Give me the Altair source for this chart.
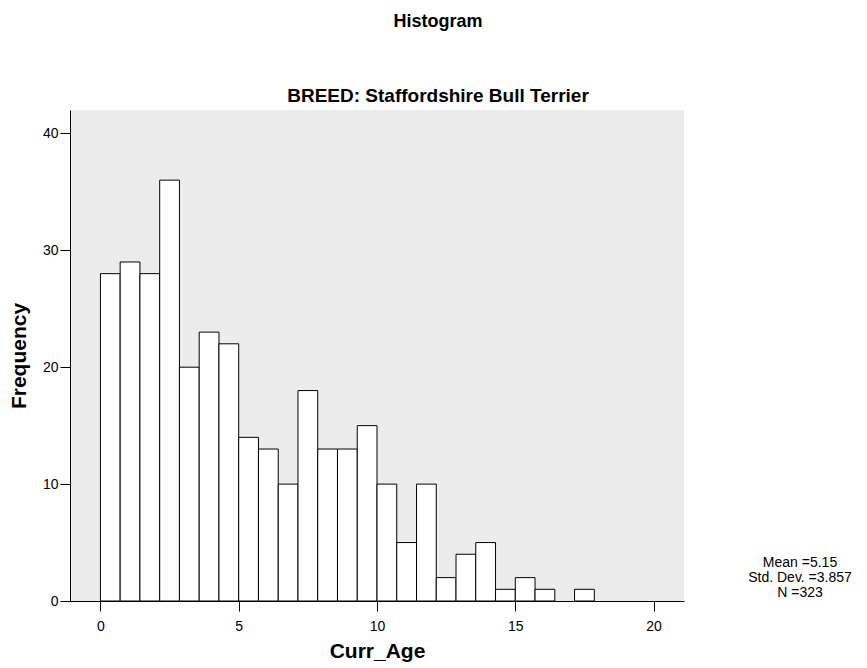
import altair as alt
import pandas as pd

# Histogram bins (Curr_Age), bin width 5/7
bin_start = [0.0, 0.714, 1.429, 2.143, 2.857, 3.571, 4.286, 5.0, 5.714, 6.429,
             7.143, 7.857, 8.571, 9.286, 10.0, 10.714, 11.429, 12.143, 12.857,
             13.571, 14.286, 15.0, 15.714, 16.429, 17.143]
bin_end = [0.714, 1.429, 2.143, 2.857, 3.571, 4.286, 5.0, 5.714, 6.429, 7.143,
           7.857, 8.571, 9.286, 10.0, 10.714, 11.429, 12.143, 12.857, 13.571,
           14.286, 15.0, 15.714, 16.429, 17.143, 17.857]
counts = [28, 29, 28, 36, 20, 23, 22, 14, 13, 10, 18, 13, 13, 15, 10, 5, 10,
          2, 4, 5, 1, 2, 1, 0, 1]

x_ticks = [0, 5, 10, 15, 20]
y_ticks = [0, 10, 20, 30, 40]
stats_lines = ["Mean =5.15", "Std. Dev. =3.857", "N =323"]

df = pd.DataFrame({"start": bin_start, "end": bin_end, "count": counts})
df = df[df["count"] > 0]

FONT = "Liberation Sans"

x_scale = alt.Scale(domain=[-1.1, 21.1], nice=False, zero=False)
y_scale = alt.Scale(domain=[0, 42], nice=False)

bars = alt.Chart(df).mark_rect(fill="white", stroke="black", strokeWidth=1).encode(
    x=alt.X("start:Q", scale=x_scale,
            axis=alt.Axis(values=x_ticks, title="Curr_Age", grid=False,
                          domainColor="black", tickColor="black", tickSize=10,
                          labelFontSize=14, labelColor="black", labelPadding=8,
                          titleFontSize=21, titleFontWeight="bold", titleColor="black",
                          titlePadding=7, labelFont=FONT, titleFont=FONT)),
    x2="end:Q",
    y=alt.Y("count:Q", scale=y_scale,
            axis=alt.Axis(values=y_ticks, title="Frequency", grid=False,
                          domainColor="black", tickColor="black", tickSize=10,
                          labelFontSize=14, labelColor="black", labelPadding=2,
                          titleFontSize=21, titleFontWeight="bold", titleColor="black",
                          titlePadding=13, labelFont=FONT, titleFont=FONT)),
    y2=alt.datum(0),
)

stats = alt.Chart(pd.DataFrame({"k": [0]})).mark_text(
    font=FONT, fontSize=14, color="black", align="center", baseline="middle",
    lineHeight=15, text=stats_lines,
).encode(
    x=alt.value(730),
    y=alt.value(453),
)

chart = alt.layer(bars, stats).properties(
    width=614,
    height=491,
    background="white",
    title=alt.TitleParams(
        text="Histogram",
        subtitle="BREED: Staffordshire Bull Terrier",
        anchor="middle", frame="group", dx=61,
        font=FONT, fontSize=18, fontWeight="bold", color="black",
        subtitleFont=FONT, subtitleFontSize=19, subtitleFontWeight="bold",
        subtitleColor="black", subtitlePadding=56, offset=4,
    ),
    autosize=alt.AutoSizeParams(type="none"),
    padding={"left": 62, "top": 102, "right": 175, "bottom": 64},
).configure_view(fill="#ECECEC", stroke=None)

chart.save("out.html", embed_options={"renderer": "svg", "actions": False})
